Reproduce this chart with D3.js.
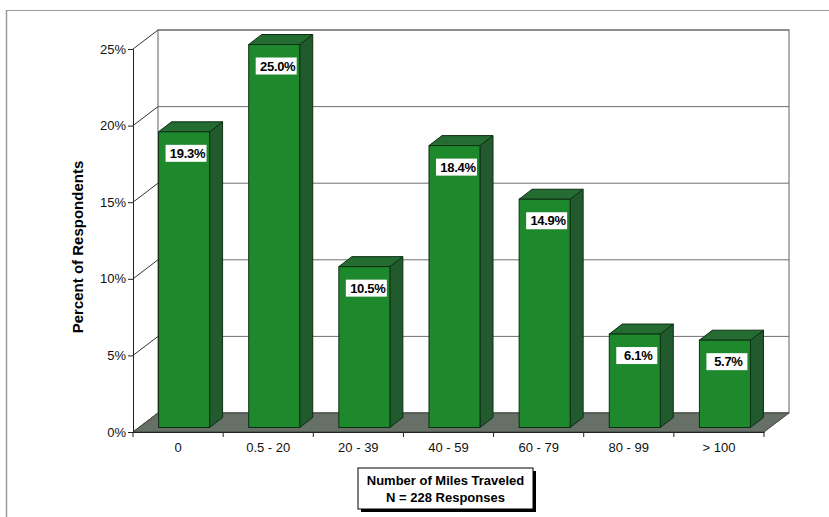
<!DOCTYPE html>
<html>
<head>
<meta charset="utf-8">
<script src="https://cdn.jsdelivr.net/npm/d3@7"></script>
<style>
  html, body { margin: 0; padding: 0; background: #fff; }
  svg { display: block; font-family: "Liberation Sans", Arial, sans-serif; }
</style>
</head>
<body>
<svg id="chart" width="829" height="517"></svg>
<script>
// Miles traveled by respondents (percent of responses)
const categories = ["0", "0.5 - 20", "20 - 39", "40 - 59", "60 - 79", "80 - 99", "> 100"];
const percents   = [19.3, 25.0, 10.5, 18.4, 14.9, 6.1, 5.7];
const yTicks     = [0, 5, 10, 15, 20, 25];
const axisTitle  = "Percent of Respondents";
const boxLines   = ["Number of Miles Traveled", "N = 228 Responses"];

const svg = d3.select("#chart");

// Plot frame (front plane) and 3D depth offset of the walls
const plot = { left: 133, right: 764, top: 49, bottom: 432 };
const depth = { dx: 25, dy: -19 };
const barDepth = { dx: 13, dy: -10 };
const barShift = { dx: (depth.dx - barDepth.dx) / 2, dy: (depth.dy - barDepth.dy) / 2 };

const x = d3.scaleBand().domain(categories).range([plot.left, plot.right]).padding(0);
const y = d3.scaleLinear().domain([0, 25]).range([plot.bottom, plot.top]);

// Outer frame lines
svg.append("line").attr("x1", 7).attr("x2", 829).attr("y1", 10.5).attr("y2", 10.5)
  .attr("stroke", "#9a9a9a").attr("stroke-width", 1.2);
svg.append("line").attr("x1", 6.5).attr("x2", 6.5).attr("y1", 10).attr("y2", 517)
  .attr("stroke", "#9a9a9a").attr("stroke-width", 1.5);

// Back wall
const bx0 = plot.left + depth.dx, bx1 = plot.right + depth.dx;
svg.append("rect")
  .attr("x", bx0).attr("y", y(25) + depth.dy)
  .attr("width", bx1 - bx0).attr("height", y(0) - y(25))
  .attr("fill", "#fff").attr("stroke", "#7a7a7a").attr("stroke-width", 1.2);

// Gridlines on the back wall and diagonals on the side wall
const grid = svg.append("g");
yTicks.forEach(t => {
  grid.append("line")
    .attr("x1", bx0).attr("x2", bx1)
    .attr("y1", y(t) + depth.dy).attr("y2", y(t) + depth.dy)
    .attr("stroke", "#6f6f6f").attr("stroke-width", 1);
  grid.append("line")
    .attr("x1", plot.left).attr("x2", bx0)
    .attr("y1", y(t)).attr("y2", y(t) + depth.dy)
    .attr("stroke", "#333").attr("stroke-width", 1);
});

// Floor
const floorPts = [
  [plot.left, y(0)], [plot.right, y(0)],
  [plot.right + depth.dx, y(0) + depth.dy], [plot.left + depth.dx, y(0) + depth.dy]
];
svg.append("polygon")
  .attr("points", floorPts.map(p => p.join(",")).join(" "))
  .attr("fill", "#667066").attr("stroke", "#3c443c").attr("stroke-width", 1);

// Bars (front, side and top faces)
const barW = x.bandwidth() * 0.566;
const bars = svg.append("g");
categories.forEach((c, i) => {
  const v = percents[i];
  const x0 = x(c) + (x.bandwidth() - barW) / 2 + barShift.dx;
  const x1 = x0 + barW;
  const yTop = y(v) + barShift.dy;
  const yBot = y(0) + barShift.dy;
  const g = bars.append("g");
  // side face
  g.append("polygon")
    .attr("points", [[x1, yTop], [x1 + barDepth.dx, yTop + barDepth.dy],
                     [x1 + barDepth.dx, yBot + barDepth.dy], [x1, yBot]].map(p => p.join(",")).join(" "))
    .attr("fill", "#215a2d").attr("stroke", "#0e2e14").attr("stroke-width", 1);
  // top face
  g.append("polygon")
    .attr("points", [[x0, yTop], [x0 + barDepth.dx, yTop + barDepth.dy],
                     [x1 + barDepth.dx, yTop + barDepth.dy], [x1, yTop]].map(p => p.join(",")).join(" "))
    .attr("fill", "#246c31").attr("stroke", "#0e2e14").attr("stroke-width", 1);
  // front face
  g.append("rect")
    .attr("x", x0).attr("y", yTop).attr("width", barW).attr("height", yBot - yTop)
    .attr("fill", "#1e882c").attr("stroke", "#0e2e14").attr("stroke-width", 1);
  // value label
  const lx = x0 + 7, ly = yTop + 13, lw = 41, lh = 17;
  g.append("rect").attr("x", lx).attr("y", ly).attr("width", lw).attr("height", lh)
    .attr("fill", "#fff");
  g.append("text")
    .attr("x", lx + lw / 2 + 1.5).attr("y", ly + lh / 2 + 4.5)
    .attr("text-anchor", "middle")
    .attr("font-size", 13).attr("font-weight", "bold").attr("fill", "#000")
    .attr("letter-spacing", -0.3)
    .text(v.toFixed(1) + "%");
});

// Left value axis
const yAxis = d3.axisLeft(y).tickValues(yTicks).tickSize(5).tickPadding(2)
  .tickFormat(d => d + "%");
const ya = svg.append("g").attr("transform", `translate(${plot.left},0)`).call(yAxis);
ya.select(".domain").attr("stroke", "#222");
ya.selectAll(".tick line").attr("stroke", "#222");
ya.selectAll("text").attr("font-size", 13).attr("fill", "#111")
  .attr("font-family", "'Liberation Sans', Arial, sans-serif");

// Category axis
const xAxis = d3.axisBottom(x).tickSize(0).tickPadding(11);
const xa = svg.append("g").attr("transform", `translate(0,${plot.bottom})`).call(xAxis);
xa.select(".domain").attr("stroke", "#222");
xa.selectAll("text").attr("font-size", 13).attr("fill", "#111")
  .attr("font-family", "'Liberation Sans', Arial, sans-serif");
// category boundary ticks
const bounds = categories.map(c => x(c)).concat([plot.right]);
svg.append("g").selectAll("line").data(bounds).join("line")
  .attr("x1", d => d).attr("x2", d => d)
  .attr("y1", plot.bottom).attr("y2", plot.bottom + 5)
  .attr("stroke", "#222");

// Axis title
svg.append("text")
  .attr("transform", `translate(83,247) rotate(-90)`)
  .attr("text-anchor", "middle")
  .attr("font-size", 15).attr("font-weight", "bold").attr("fill", "#000")
  .text(axisTitle);

// Caption box with drop shadow
const box = { x: 358, y: 468, w: 175, h: 41 };
svg.append("rect").attr("x", box.x + 3).attr("y", box.y + 3)
  .attr("width", box.w).attr("height", box.h).attr("fill", "#000");
svg.append("rect").attr("x", box.x).attr("y", box.y)
  .attr("width", box.w).attr("height", box.h)
  .attr("fill", "#fff").attr("stroke", "#000").attr("stroke-width", 1);
boxLines.forEach((t, i) => {
  svg.append("text")
    .attr("x", box.x + box.w / 2).attr("y", box.y + 17 + i * 17)
    .attr("text-anchor", "middle")
    .attr("font-size", 13).attr("font-weight", "bold").attr("fill", "#000")
    .text(t);
});
</script>
</body>
</html>
